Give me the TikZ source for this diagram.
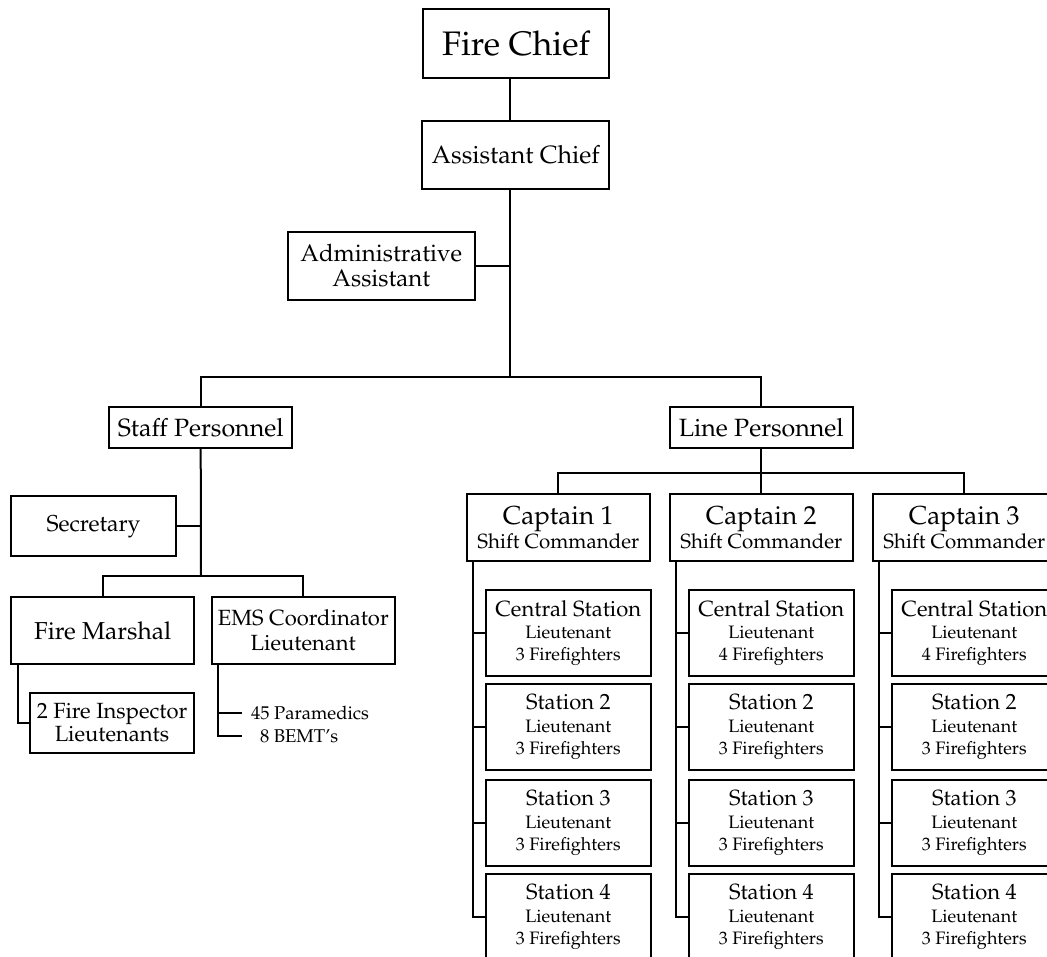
\documentclass[tikz,border=0pt]{standalone}
\usepackage[T1]{fontenc}
\usepackage{mathpazo}
\newcommand\fsz[1]{\fontsize{#1}{#1}\selectfont}

\begin{document}
\begin{tikzpicture}[x=1pt,y=-1pt,line width=2pt,
	box/.style={draw,align=center,inner sep=0pt},
	capbox/.style={box,minimum width=183.3pt,minimum height=66.7pt,font=\fontsize{26}{24.5}\selectfont},
	stnbox/.style={box,minimum width=164.7pt,minimum height=85.5pt,font=\fontsize{18}{22.3}\selectfont}]
	\useasboundingbox (0,0) rectangle (1047,957);
	% top of the chart
	\node [box,minimum width=186pt,minimum height=68.4pt,font=\fsz{34}] (chief) at (516,43.5) {Fire Chief};
	\node [box,minimum width=186.7pt,minimum height=68.6pt,font=\fsz{25}] (asst) at (515.7,155) {Assistant Chief};
	\node [box,minimum width=186.7pt,minimum height=68.3pt,font=\fontsize{24}{25}\selectfont] (admin) at (381.3,265.8) {Administrative\\Assistant};
	\node [box,minimum width=183.3pt,minimum height=40.4pt,font=\fsz{25}] (staff) at (200.7,427.5) {Staff Personnel};
	\node [box,minimum width=182.7pt,minimum height=40.4pt,font=\fsz{25}] (line) at (761.3,427.5) {Line Personnel};
	\coordinate (trunk) at (510,377);
	\draw (chief.south -| trunk) -- (asst.north -| trunk);
	\draw (asst.south -| trunk) -- (trunk);
	\draw (admin.east) -- (admin.east -| trunk);
	\draw (staff.north) |- (trunk) -| (line.north);
	% staff side
	\node [box,minimum width=165pt,minimum height=60pt,font=\fsz{23}] (sec) at (93.5,526.3) {Secretary};
	\node [box,minimum width=182.7pt,minimum height=66.7pt,font=\fsz{24.5}] (marshal) at (102.7,630.7) {Fire Marshal};
	\node [box,minimum width=183.3pt,minimum height=66.7pt,font=\fontsize{22}{25}\selectfont] (ems) at (303.3,630.7) {EMS Coordinator\\Lieutenant};
	\node [box,minimum width=164.7pt,minimum height=60pt,font=\fontsize{22}{22.7}\selectfont] (insp) at (112,722.7) {2 Fire Inspector\\Lieutenants};
	\node [anchor=west,inner sep=0pt,font=\fsz{18.5}] (para) at (250,713.3) {45 Paramedics};
	\node [anchor=west,inner sep=0pt,font=\fsz{18.5}] (bemt) at (259,736) {8 BEMT's};
	\coordinate (sbar) at (201,575.7);
	\draw (staff.south) -- (sbar);
	\draw (sec.east) -- (sec.east -| sbar);
	\draw (marshal.north) |- (sbar) -| (ems.north);
	\draw ([xshift=7.7pt]marshal.south west) |- (insp.west);
	\coordinate (emsl) at ([xshift=7.3pt]ems.south west);
	\draw (emsl) |- (242.3,736);
	\draw (emsl |- para.west) -- ([xshift=-7.7pt]para.west);
	% line side
	\node [capbox] (cap1) at (558.3,527.7) {Captain 1\\{\fsz{20.5}Shift Commander}};
	\node [capbox] (cap2) at (761.3,527.7) {Captain 2\\{\fsz{20.5}Shift Commander}};
	\node [capbox] (cap3) at (964.3,527.7) {Captain 3\\{\fsz{20.5}Shift Commander}};
	\coordinate (lbar) at (761.3,473);
	\draw (line.south) -- (cap2.north);
	\draw (cap1.north) |- (lbar) -| (cap3.north);

	\node [stnbox] (s11) at (568.3,633) {{\fsz{22}Central Station}\\Lieutenant\\3 Firefighters};
	\node [stnbox] (s12) at (568.3,727) {{\fsz{22}Station 2}\\Lieutenant\\3 Firefighters};
	\node [stnbox] (s13) at (568.3,823) {{\fsz{22}Station 3}\\Lieutenant\\3 Firefighters};
	\node [stnbox] (s14) at (568.3,917) {{\fsz{22}Station 4}\\Lieutenant\\3 Firefighters};
	\node [stnbox] (s21) at (771.3,633) {{\fsz{22}Central Station}\\Lieutenant\\4 Firefighters};
	\node [stnbox] (s22) at (771.3,727) {{\fsz{22}Station 2}\\Lieutenant\\3 Firefighters};
	\node [stnbox] (s23) at (771.3,823) {{\fsz{22}Station 3}\\Lieutenant\\3 Firefighters};
	\node [stnbox] (s24) at (771.3,917) {{\fsz{22}Station 4}\\Lieutenant\\3 Firefighters};
	\node [stnbox] (s31) at (974.3,633) {{\fsz{22}Central Station}\\Lieutenant\\4 Firefighters};
	\node [stnbox] (s32) at (974.3,727) {{\fsz{22}Station 2}\\Lieutenant\\3 Firefighters};
	\node [stnbox] (s33) at (974.3,823) {{\fsz{22}Station 3}\\Lieutenant\\3 Firefighters};
	\node [stnbox] (s34) at (974.3,917) {{\fsz{22}Station 4}\\Lieutenant\\3 Firefighters};

	\coordinate (c1) at ([xshift=7.7pt]cap1.south west);
	\coordinate (c2) at ([xshift=7.7pt]cap2.south west);
	\coordinate (c3) at ([xshift=7.7pt]cap3.south west);
	\draw (c1) |- (s14.west) (s11.west) -- (s11.west -| c1) (s12.west) -- (s12.west -| c1) (s13.west) -- (s13.west -| c1);
	\draw (c2) |- (s24.west) (s21.west) -- (s21.west -| c2) (s22.west) -- (s22.west -| c2) (s23.west) -- (s23.west -| c2);
	\draw (c3) |- (s34.west) (s31.west) -- (s31.west -| c3) (s32.west) -- (s32.west -| c3) (s33.west) -- (s33.west -| c3);
\end{tikzpicture}
\end{document}
